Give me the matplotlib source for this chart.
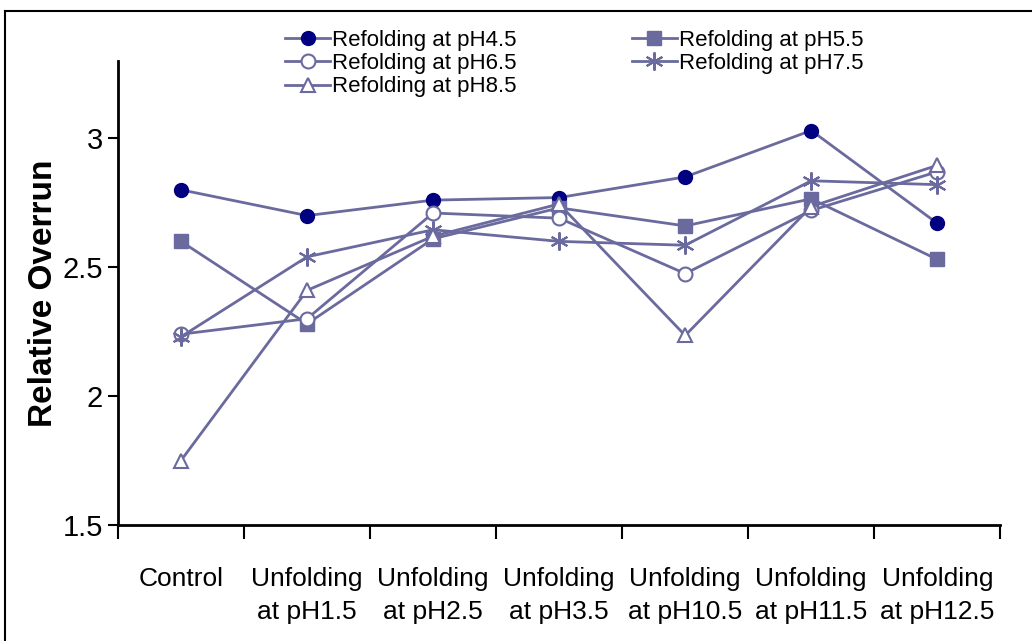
import matplotlib
matplotlib.use("Agg")
import matplotlib.pyplot as plt
from matplotlib.lines import Line2D

categories = ["Control", "Unfolding\nat pH1.5", "Unfolding\nat pH2.5", "Unfolding\nat pH3.5",
              "Unfolding\nat pH10.5", "Unfolding\nat pH11.5", "Unfolding\nat pH12.5"]

ph45 = [2.80, 2.70, 2.76, 2.77, 2.85, 3.03, 2.67]
ph55 = [2.60, 2.28, 2.61, 2.73, 2.66, 2.765, 2.53]
ph65 = [2.24, 2.30, 2.71, 2.69, 2.475, 2.72, 2.87]
ph75 = [2.23, 2.54, 2.645, 2.60, 2.585, 2.835, 2.82]
ph85 = [1.75, 2.41, 2.62, 2.745, 2.235, 2.735, 2.895]

line_col = "#6a6a9e"
navy = "#000080"
regular = ["Liberation Sans", "DejaVu Sans"]

fig = plt.figure(figsize=(10.32, 6.41), dpi=100)
ax = fig.add_axes([0.1143, 0.181, 0.855, 0.724])

x = list(range(len(categories)))
series = [
    ("Refolding at pH4.5", ph45, dict(marker="o", markerfacecolor=navy, markeredgecolor=navy, markersize=10)),
    ("Refolding at pH5.5", ph55, dict(marker="s", markerfacecolor=line_col, markeredgecolor=line_col, markersize=9.5)),
    ("Refolding at pH6.5", ph65, dict(marker="o", markerfacecolor="white", markeredgecolor=line_col, markersize=10, markeredgewidth=1.5)),
    ("Refolding at pH7.5", ph75, dict(marker=(6, 2, 0), markeredgecolor=line_col, markersize=13, markeredgewidth=1.5)),
    ("Refolding at pH8.5", ph85, dict(marker="^", markerfacecolor="white", markeredgecolor=line_col, markersize=10, markeredgewidth=1.5)),
]
handles = []
for label, vals, style in series:
    h, = ax.plot(x, vals, color=line_col, linewidth=2, label=label, **style)
    handles.append(h)

ax.set_xlim(-0.5, 6.5)
ax.set_ylim(1.5, 3.3)
ax.set_yticks([1.5, 2, 2.5, 3])
ax.set_yticklabels(["1.5", "2", "2.5", "3"], family=regular, fontsize=21)
ax.set_xticks(x)
ax.set_xticklabels(categories, family=regular, fontsize=19, linespacing=1.5)
ax.set_xticks([i - 0.5 for i in range(len(categories) + 1)], minor=True)
ax.tick_params(axis="x", which="major", length=0, pad=30)
ax.tick_params(axis="x", which="minor", length=10, width=1.5, direction="out")
ax.tick_params(axis="y", length=7, width=1.5, direction="out", pad=4)
for s in ["top", "right"]:
    ax.spines[s].set_visible(False)
for s in ["left", "bottom"]:
    ax.spines[s].set_linewidth(2)
ax.set_ylabel("Relative Overrun", family=regular, fontsize=24, fontweight="bold", labelpad=2)

# legend in two columns above the plot
order = [0, 2, 4, 1, 3]
fig.legend([handles[i] for i in order], [series[i][0] for i in order],
           loc="upper left", bbox_to_anchor=(0.268, 0.967), ncol=2, frameon=False,
           prop={"family": regular, "size": 16}, handlelength=2.0, handletextpad=0.1,
           columnspacing=5.2, labelspacing=0.1, borderaxespad=0)

# partial figure border (top and left edges)
fig.add_artist(Line2D([0.0048, 1.0], [0.9828, 0.9828], color="black", linewidth=1.5, transform=fig.transFigure))
fig.add_artist(Line2D([0.0048, 0.0048], [0.0, 0.9828], color="black", linewidth=1.5, transform=fig.transFigure))

fig.savefig("out.png", dpi=100)
